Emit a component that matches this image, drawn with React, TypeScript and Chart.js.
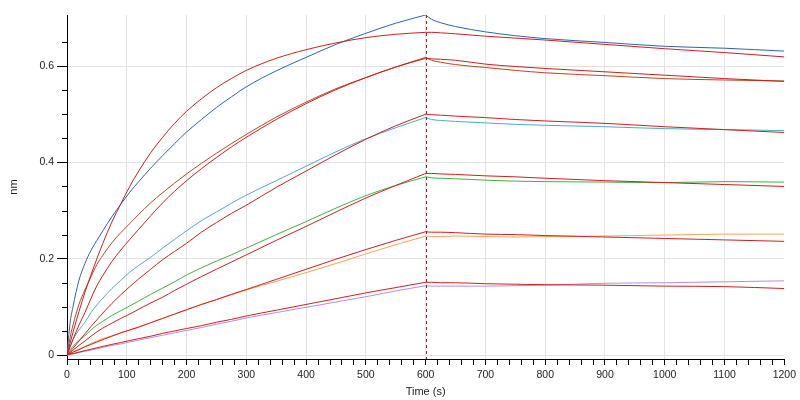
import React, { useEffect, useRef } from "react";
import { Chart, registerables } from "chart.js";

Chart.register(...registerables);

// Time points (s)
const TIME = [0, 5, 10, 20, 30, 40, 50, 60, 75, 90, 105, 120, 140, 160, 180, 200, 225, 250, 275, 300, 350, 400, 450, 500, 550, 600, 610, 625, 650, 700, 750, 800, 900, 1000, 1100, 1200];

// Measured responses (nm)
const BLUE = [0, 0.065, 0.1, 0.155, 0.19, 0.217, 0.238, 0.258, 0.287, 0.313, 0.338, 0.36, 0.388, 0.414, 0.439, 0.463, 0.489, 0.514, 0.536, 0.557, 0.59, 0.618, 0.645, 0.668, 0.689, 0.706, 0.697, 0.69, 0.682, 0.671, 0.663, 0.657, 0.649, 0.641, 0.637, 0.631];
const BROWN = [0, 0.035, 0.062, 0.105, 0.135, 0.162, 0.188, 0.207, 0.233, 0.254, 0.273, 0.292, 0.316, 0.337, 0.357, 0.376, 0.398, 0.419, 0.439, 0.458, 0.494, 0.525, 0.553, 0.576, 0.598, 0.618, 0.612, 0.608, 0.603, 0.597, 0.591, 0.586, 0.58, 0.574, 0.571, 0.569];
const TEAL = [0, 0.018, 0.032, 0.052, 0.068, 0.088, 0.104, 0.118, 0.138, 0.155, 0.172, 0.186, 0.203, 0.222, 0.24, 0.258, 0.279, 0.297, 0.315, 0.332, 0.362, 0.392, 0.422, 0.449, 0.472, 0.493, 0.489, 0.487, 0.485, 0.482, 0.479, 0.477, 0.474, 0.47, 0.468, 0.466];
const GREEN = [0, 0.01, 0.018, 0.03, 0.04, 0.052, 0.062, 0.07, 0.082, 0.092, 0.102, 0.112, 0.126, 0.139, 0.152, 0.166, 0.181, 0.195, 0.208, 0.222, 0.25, 0.277, 0.305, 0.331, 0.352, 0.37, 0.368, 0.367, 0.366, 0.363, 0.361, 0.36, 0.359, 0.358, 0.36, 0.359];
const ORANGE = [0, 0.003, 0.006, 0.012, 0.018, 0.024, 0.029, 0.034, 0.04, 0.046, 0.052, 0.058, 0.067, 0.076, 0.085, 0.094, 0.105, 0.115, 0.125, 0.135, 0.153, 0.171, 0.19, 0.21, 0.229, 0.247, 0.246, 0.246, 0.247, 0.246, 0.245, 0.246, 0.247, 0.249, 0.251, 0.251];
const PURPLE = [0, 0.001, 0.002, 0.005, 0.008, 0.01, 0.013, 0.016, 0.02, 0.023, 0.027, 0.031, 0.036, 0.041, 0.046, 0.051, 0.057, 0.064, 0.07, 0.077, 0.088, 0.099, 0.11, 0.121, 0.133, 0.144, 0.143, 0.143, 0.143, 0.143, 0.144, 0.145, 0.149, 0.15, 0.152, 0.154];

// Fitted curves (nm)
const FIT_BLUE = [0, 0.024, 0.047, 0.09, 0.13, 0.166, 0.2, 0.232, 0.276, 0.314, 0.35, 0.382, 0.42, 0.452, 0.481, 0.506, 0.532, 0.555, 0.574, 0.591, 0.616, 0.634, 0.648, 0.659, 0.666, 0.67, 0.67, 0.669, 0.667, 0.662, 0.658, 0.654, 0.645, 0.636, 0.628, 0.619];
const FIT_BROWN = [0, 0.016, 0.032, 0.062, 0.088, 0.117, 0.144, 0.165, 0.194, 0.218, 0.24, 0.261, 0.289, 0.316, 0.34, 0.362, 0.387, 0.41, 0.432, 0.452, 0.489, 0.522, 0.551, 0.576, 0.598, 0.616, 0.615, 0.614, 0.612, 0.604, 0.599, 0.595, 0.588, 0.581, 0.574, 0.568];
const FIT_TEAL = [0, 0.007, 0.014, 0.029, 0.044, 0.059, 0.073, 0.087, 0.107, 0.125, 0.142, 0.158, 0.178, 0.198, 0.215, 0.232, 0.255, 0.275, 0.294, 0.311, 0.348, 0.382, 0.416, 0.448, 0.476, 0.5, 0.499, 0.498, 0.496, 0.493, 0.489, 0.486, 0.481, 0.474, 0.468, 0.462];
const FIT_GREEN = [0, 0.005, 0.01, 0.02, 0.029, 0.039, 0.048, 0.056, 0.066, 0.076, 0.085, 0.095, 0.108, 0.12, 0.134, 0.147, 0.163, 0.178, 0.193, 0.208, 0.238, 0.267, 0.297, 0.326, 0.352, 0.377, 0.377, 0.376, 0.375, 0.372, 0.37, 0.367, 0.362, 0.358, 0.354, 0.35];
const FIT_ORANGE = [0, 0.003, 0.006, 0.011, 0.017, 0.022, 0.027, 0.032, 0.039, 0.046, 0.052, 0.058, 0.067, 0.076, 0.085, 0.094, 0.105, 0.115, 0.126, 0.136, 0.157, 0.178, 0.199, 0.219, 0.238, 0.256, 0.255, 0.255, 0.254, 0.251, 0.25, 0.248, 0.245, 0.242, 0.239, 0.236];
const FIT_PURPLE = [0, 0.0015, 0.003, 0.006, 0.009, 0.012, 0.015, 0.018, 0.022, 0.026, 0.03, 0.034, 0.039, 0.045, 0.05, 0.055, 0.061, 0.068, 0.074, 0.081, 0.093, 0.105, 0.117, 0.129, 0.14, 0.151, 0.151, 0.15, 0.15, 0.148, 0.147, 0.146, 0.145, 0.143, 0.142, 0.138];

const SWITCH_TIME = 600; // association -> dissociation
const Y_TICKS = [0, 0.05, 0.1, 0.15, 0.2, 0.25, 0.3, 0.35, 0.4, 0.45, 0.5, 0.55, 0.6, 0.65];
const Y_LABELED = [0, 0.2, 0.4, 0.6];

const MEASURED = [
  { data: BLUE, color: "#2f62b0" },
  { data: BROWN, color: "#b8461e" },
  { data: TEAL, color: "#4eaac0" },
  { data: GREEN, color: "#42b040" },
  { data: ORANGE, color: "#f8a455" },
  { data: PURPLE, color: "#b98ae0" },
];
const FITS = [FIT_BLUE, FIT_BROWN, FIT_TEAL, FIT_GREEN, FIT_ORANGE, FIT_PURPLE];
const FIT_COLOR = "#cc1f1f";
const GRID = "#e3e3e3";
const FONT = "'Liberation Sans', Arial, sans-serif";

const isLabeled = (v: number) => Y_LABELED.some((m) => Math.abs(m - v) < 1e-9);
// split each curve into its association and dissociation phases (sharp corner at the switch)
const phase = (arr: number[], assoc: boolean) =>
  TIME.map((t, i) => ({ x: t, y: arr[i] })).filter((p) => (assoc ? p.x <= SWITCH_TIME : p.x >= SWITCH_TIME));

const overlay = {
  id: "overlay",
  afterDatasetsDraw(chart: any) {
    const { ctx, chartArea, scales } = chart;
    const px = Math.round(scales.x.getPixelForValue(SWITCH_TIME)) + 0.5;
    ctx.save();
    ctx.strokeStyle = "#a31a1a";
    ctx.lineWidth = 1;
    ctx.setLineDash([3, 3]);
    ctx.beginPath();
    ctx.moveTo(px, chartArea.top);
    ctx.lineTo(px, chartArea.bottom);
    ctx.stroke();
    ctx.restore();
  },
  afterDraw(chart: any) {
    const { ctx, chartArea, scales } = chart;
    ctx.save();
    ctx.strokeStyle = "#000";
    ctx.lineWidth = 1;
    Y_TICKS.forEach((v) => {
      if (isLabeled(v)) return;
      const py = Math.round(scales.y.getPixelForValue(v)) + 0.5;
      ctx.beginPath();
      ctx.moveTo(chartArea.left - 5, py);
      ctx.lineTo(chartArea.left, py);
      ctx.stroke();
    });
    ctx.restore();
  },
};

export default function App() {
  const ref = useRef<HTMLCanvasElement>(null);
  useEffect(() => {
    if (!ref.current) return;
    const datasets: any[] = [];
    const line = (data: any[], color: string, order: number) => ({
      data,
      borderColor: color,
      borderWidth: 1,
      pointRadius: 0,
      cubicInterpolationMode: "monotone",
      fill: false,
      order,
    });
    FITS.forEach((f) => {
      datasets.push(line(phase(f, true), FIT_COLOR, 0));
      datasets.push(line(phase(f, false), FIT_COLOR, 0));
    });
    MEASURED.forEach((m) => {
      datasets.push(line(phase(m.data, true), m.color, 1));
      datasets.push(line(phase(m.data, false), m.color, 1));
    });
    const chart = new Chart(ref.current, {
      type: "line",
      data: { datasets },
      plugins: [overlay],
      options: {
        animation: false,
        responsive: false,
        devicePixelRatio: 1,
        layout: { padding: { top: 15, right: 13, left: 0, bottom: 0 } },
        plugins: { legend: { display: false }, tooltip: { enabled: false } },
        scales: {
          x: {
            type: "linear",
            min: 0,
            max: 1200,
            afterFit: (s: any) => {
              s.height = 41;
            },
            ticks: {
              stepSize: 20,
              autoSkip: false,
              maxRotation: 0,
              padding: 4,
              color: "#222",
              font: { family: FONT, size: 10.5 },
              callback: (v: any) => (Number(v) % 100 === 0 ? String(v) : ""),
            },
            grid: {
              color: (c: any) => {
                const v = c.tick ? c.tick.value : -1;
                return v % 100 === 0 && v > 0 && v < 1200 ? GRID : "rgba(0,0,0,0)";
              },
              tickColor: "#000",
              tickLength: 6,
              lineWidth: 1,
            },
            border: { display: true, color: "#000", width: 1 },
            title: {
              display: true,
              text: "Time (s)",
              color: "#222",
              font: { family: FONT, size: 11 },
              padding: { top: 0, bottom: 1 },
            },
          },
          y: {
            type: "linear",
            min: -0.0083,
            max: 0.706,
            afterFit: (s: any) => {
              s.width = 67;
            },
            afterBuildTicks: (s: any) => {
              s.ticks = Y_TICKS.map((value) => ({ value }));
            },
            ticks: {
              autoSkip: false,
              padding: 3,
              color: "#222",
              font: { family: FONT, size: 10.5 },
              callback: (v: any) => {
                const n = Number(v);
                if (!isLabeled(n)) return "";
                return n === 0 ? "0" : n.toFixed(1);
              },
            },
            grid: {
              color: (c: any) => (c.tick && isLabeled(c.tick.value) ? GRID : "rgba(0,0,0,0)"),
              tickColor: (c: any) => (c.tick && isLabeled(c.tick.value) ? "#000" : "rgba(0,0,0,0)"),
              tickLength: 10,
              lineWidth: 1,
            },
            border: { display: true, color: "#000", width: 1 },
            title: {
              display: true,
              text: "nm",
              color: "#222",
              font: { family: FONT, size: 11 },
              padding: { top: 7, bottom: 0 },
            },
          },
        },
      },
    } as any);
    return () => chart.destroy();
  }, []);
  return (
    <div style={{ position: "absolute", left: 0, top: 0, width: 800, height: 400, background: "#fff" }}>
      <canvas ref={ref} width={800} height={400} style={{ display: "block" }} />
    </div>
  );
}
